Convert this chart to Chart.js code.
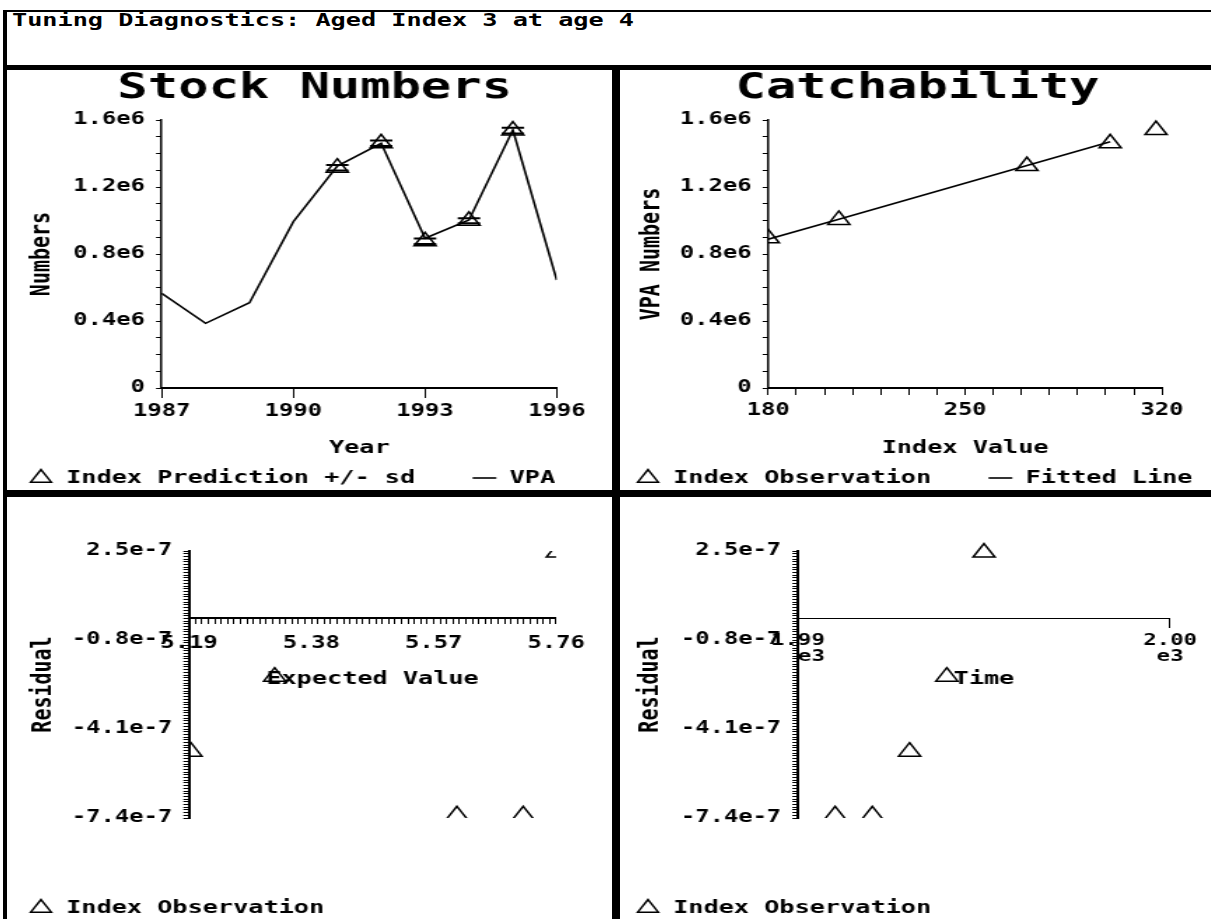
<!DOCTYPE html>
<html>
<head>
<meta charset="utf-8">
<title>Tuning Diagnostics</title>
<script src="https://cdn.jsdelivr.net/npm/chart.js@4.4.1/dist/chart.umd.min.js"></script>
<style>
    body { margin: 0; background: #fff; }
    #page { position: relative; width: 1211px; height: 919px; overflow: hidden; background: #fff; }
    .rule { position: absolute; background: #000; z-index: 2; }
    /* la pantalla original tiene pixeles anchos: se estira todo en horizontal */
    .panel { position: absolute; transform: scaleX(1.4); transform-origin: 0 0; }
    #header {
        position: absolute; left: 12px; top: 11px;
        font: bold 18px/18px 'DejaVu Sans Mono', monospace;
        white-space: nowrap; transform: scaleX(1.4); transform-origin: 0 0;
    }
</style>
</head>
<body>
<div id="page">
    <div id="header">Tuning Diagnostics: Aged Index 3 at age 4</div>

    <div class="panel" style="left:6px;top:70px"><canvas id="stockChart" width="433" height="420"></canvas></div>
    <div class="panel" style="left:620px;top:70px"><canvas id="catchChart" width="422" height="420"></canvas></div>
    <div class="panel" style="left:6px;top:497px"><canvas id="expectedChart" width="433" height="422"></canvas></div>
    <div class="panel" style="left:620px;top:497px"><canvas id="timeChart" width="422" height="422"></canvas></div>

    <div class="rule" style="left:3px;top:10px;width:1208px;height:2px"></div>
    <div class="rule" style="left:3px;top:10px;width:4px;height:909px"></div>
    <div class="rule" style="left:3px;top:65px;width:1208px;height:5px"></div>
    <div class="rule" style="left:612px;top:65px;width:8px;height:854px"></div>
    <div class="rule" style="left:3px;top:490px;width:1208px;height:7px"></div>
</div>

<script>
// --- Datos ---
const years = [1987, 1988, 1989, 1990, 1991, 1992, 1993, 1994, 1995, 1996];
const vpaNumbers = [0.565e6, 0.386e6, 0.509e6, 0.993e6, 1.325e6, 1.461e6, 0.894e6, 1.003e6, 1.540e6, 0.645e6];

const indexYears = [1991, 1992, 1993, 1994, 1995];
const indexPrediction = [1.315e6, 1.461e6, 0.876e6, 0.998e6, 1.537e6];
const predictionSd = [0.017e6, 0.016e6, 0.017e6, 0.015e6, 0.017e6];

const indexValue = [272.0, 301.6, 180.0, 205.1, 317.9];
const indexVpa = [1.325e6, 1.461e6, 0.894e6, 1.003e6, 1.540e6];
const fittedIndex = [180.0, 205.1, 272.0, 301.6];
const fittedVpa = [0.888e6, 1.008e6, 1.329e6, 1.470e6];

const expectedValue = [5.606, 5.709, 5.193, 5.323, 5.762];
const residual = [-7.3e-7, -7.3e-7, -4.94e-7, -2.16e-7, 2.44e-7];

// --- Etiquetas de los ejes ---
const numberTicks = [0, 0.4e6, 0.8e6, 1.2e6, 1.6e6];
const numberTickLabels = ['0', '0.4e6', '0.8e6', '1.2e6', '1.6e6'];
const yearTicks = [1987, 1990, 1993, 1996];
const indexTicks = [180, 250, 320];
const expectedTicks = [5.19, 5.38, 5.57, 5.76];
const expectedTickLabels = ['5.19', '5.38', '5.57', '5.76'];
const residualTicks = [-7.4e-7, -4.1e-7, -0.8e-7, 2.5e-7];
const residualTickLabels = ['-7.4e-7', '-4.1e-7', '-0.8e-7', '2.5e-7'];
const timeTicks = [1990, 2000];
const timeTickLabels = [['1.99', '  e3'], ['2.00', 'e3']];

const black = '#000';
const hollow = 'rgba(0,0,0,0)';

Chart.defaults.font.family = "'DejaVu Sans Mono', monospace";
Chart.defaults.color = black;

const tickFont = { size: 17, weight: 'bold', lineHeight: 1.2 };
const axisTitleFont = { size: 18, weight: 'bold', lineHeight: 1 };
const sideTitleFont = { size: 20, weight: 'bold', lineHeight: 1 };
const chartTitleFont = { size: 36, weight: 'bold', lineHeight: 1 };

// solo se escribe la etiqueta en las marcas mayores, las demas quedan vacias
function tickLabel(values, labels, step) {
    return function(value) {
        const i = values.findIndex(v => Math.abs(v - value) < step / 2);
        return i === -1 ? '' : labels[i];
    };
}

function axisGrid(len) {
    return { drawOnChartArea: false, drawTicks: true, tickLength: len, color: black };
}

function points(xs, ys) {
    return xs.map((x, i) => ({ x: x, y: ys[i] }));
}

function legendOpts(pad, maxHeight, spacer) {
    return {
        position: 'bottom',
        align: 'start',
        maxHeight: maxHeight,
        // titulo vacio para dejar el hueco debajo del grafico de residuos
        title: spacer ? { display: true, text: '', padding: 0, font: { size: spacer, lineHeight: 1 } } : { display: false },
        labels: {
            usePointStyle: true,
            boxWidth: 18,
            boxHeight: 12,
            padding: pad,
            color: black,
            font: { size: 18, weight: 'bold' },
            filter: item => item.text !== ''
        }
    };
}

function triangleSet(label, data, clip) {
    return {
        label: label,
        data: data,
        pointStyle: 'triangle',
        pointRadius: 9,
        pointBorderWidth: 1.5,
        borderColor: black,
        backgroundColor: hollow,
        clip: clip
    };
}

function lineSet(label, data) {
    return {
        label: label,
        data: data,
        showLine: true,
        borderColor: black,
        borderWidth: 1.6,
        pointRadius: 0,
        pointStyle: 'line',
        pointBorderWidth: 1.6
    };
}

function numbersAxis(title, width, titlePad) {
    return {
        type: 'linear',
        min: numberTicks[0],
        max: numberTicks[numberTicks.length - 1],
        grid: axisGrid(4),
        border: { color: black, width: 1.5 },
        ticks: { stepSize: 1e5, maxTicksLimit: 200, autoSkip: false, padding: 8, font: tickFont, color: black,
                 callback: tickLabel(numberTicks, numberTickLabels, 1e5) },
        title: { display: true, text: title, color: black, font: sideTitleFont, padding: { top: titlePad, bottom: 0 } },
        afterFit: function(scale) { scale.width = width; }
    };
}

function residualAxis(width) {
    return {
        type: 'linear',
        min: residualTicks[0],
        max: residualTicks[residualTicks.length - 1],
        grid: axisGrid(4),
        border: { color: black, width: 2 },
        ticks: { stepSize: 1e-8, maxTicksLimit: 200, autoSkip: false, padding: 8, font: tickFont, color: black,
                 callback: tickLabel(residualTicks, residualTickLabels, 1e-8) },
        title: { display: true, text: 'Residual', color: black, font: sideTitleFont, padding: { top: 3.1, bottom: 0 } },
        afterFit: function(scale) { scale.width = width; }
    };
}

// Stock Numbers
const sdBars = indexYears.flatMap((yr, i) => [
    { x: yr, y: indexPrediction[i] + predictionSd[i] },
    { x: yr, y: indexPrediction[i] - predictionSd[i] }
]);

new Chart(document.getElementById('stockChart'), {
    type: 'scatter',
    data: {
        datasets: [
            triangleSet('Index Prediction +/- sd   ', points(indexYears, indexPrediction)),
            lineSet('VPA', points(years, vpaNumbers)),
            { label: '', data: sdBars, pointStyle: 'line', pointRadius: 8, pointBorderWidth: 2, borderColor: black }
        ]
    },
    options: {
        responsive: false,
        animation: false,
        events: [],
        layout: { padding: { left: 8, right: 0, top: 0, bottom: 0 } },
        plugins: {
            title: { display: true, text: 'Stock Numbers', color: black, font: chartTitleFont, padding: { top: 1, bottom: 13 } },
            legend: legendOpts(8, 29),
            tooltip: { enabled: false }
        },
        scales: {
            x: {
                type: 'linear',
                min: yearTicks[0],
                max: yearTicks[yearTicks.length - 1],
                grid: axisGrid(10),
                border: { color: black, width: 2 },
                ticks: { stepSize: 3, autoSkip: false, maxRotation: 0, padding: 3, font: tickFont, color: black,
                         callback: tickLabel(yearTicks, yearTicks.map(String), 3) },
                title: { display: true, text: 'Year', color: black, font: axisTitleFont, padding: { top: 0, bottom: 4 } },
                afterFit: function(scale) { scale.height = 73; scale.paddingRight = 39.6; }
            },
            y: numbersAxis('Numbers', 103.2, 7.7)
        }
    }
});

// Catchability
new Chart(document.getElementById('catchChart'), {
    type: 'scatter',
    data: {
        datasets: [
            triangleSet('Index Observation   ', points(indexValue, indexVpa), { left: 0, top: 10, right: 10, bottom: 0 }),
            lineSet('Fitted Line', points(fittedIndex, fittedVpa))
        ]
    },
    options: {
        responsive: false,
        animation: false,
        events: [],
        layout: { padding: { left: 3, right: 0, top: 0, bottom: 0 } },
        plugins: {
            title: { display: true, text: 'Catchability', color: black, font: chartTitleFont, padding: { top: 1, bottom: 13 } },
            legend: legendOpts(8, 29),
            tooltip: { enabled: false }
        },
        scales: {
            x: {
                type: 'linear',
                min: indexTicks[0],
                max: indexTicks[indexTicks.length - 1],
                grid: axisGrid(7),
                border: { color: black, width: 2 },
                ticks: { stepSize: 10, autoSkip: false, maxRotation: 0, padding: 5, font: tickFont, color: black,
                         callback: tickLabel(indexTicks, indexTicks.map(String), 10) },
                title: { display: true, text: 'Index Value', color: black, font: axisTitleFont, padding: { top: 0, bottom: 4 } },
                afterFit: function(scale) { scale.height = 73; scale.paddingRight = 34.9; }
            },
            y: numbersAxis('VPA Numbers', 102.9, 9.9)
        }
    }
});

// Residuos contra valor esperado
new Chart(document.getElementById('expectedChart'), {
    type: 'scatter',
    data: {
        datasets: [triangleSet('Index Observation', points(expectedValue, residual), 0)]
    },
    options: {
        responsive: false,
        animation: false,
        events: [],
        layout: { padding: { left: 14, right: 40.1, top: 54, bottom: 0 } },
        plugins: {
            legend: legendOpts(2, 101, 79),
            tooltip: { enabled: false }
        },
        scales: {
            x: {
                type: 'linear',
                position: { y: 0 },
                min: expectedTicks[0],
                max: expectedTicks[expectedTicks.length - 1],
                grid: axisGrid(5),
                border: { color: black, width: 2 },
                ticks: { stepSize: 0.01, maxTicksLimit: 200, autoSkip: false, maxRotation: 0, padding: 10, font: tickFont, color: black,
                         callback: tickLabel(expectedTicks, expectedTickLabels, 0.01) },
                title: { display: true, text: 'Expected Value', color: black, font: axisTitleFont, padding: 0 },
                afterFit: function(scale) { scale.height = 70; }
            },
            y: residualAxis(116.7)
        }
    }
});

// Residuos contra tiempo
new Chart(document.getElementById('timeChart'), {
    type: 'scatter',
    data: {
        datasets: [triangleSet('Index Observation', points(indexYears, residual), { left: 0, top: 10, right: 0, bottom: 0 })]
    },
    options: {
        responsive: false,
        animation: false,
        events: [],
        layout: { padding: { left: 9, right: 29.1, top: 54, bottom: 0 } },
        plugins: {
            legend: legendOpts(2, 101, 79),
            tooltip: { enabled: false }
        },
        scales: {
            x: {
                type: 'linear',
                position: { y: 0 },
                min: timeTicks[0],
                max: timeTicks[timeTicks.length - 1],
                grid: axisGrid(9),
                border: { color: black, width: 1 },
                ticks: { stepSize: 10, autoSkip: false, maxRotation: 0, padding: 5, color: black,
                         font: { size: 16, weight: 'bold', lineHeight: 1 },
                         callback: tickLabel(timeTicks, timeTickLabels, 10) },
                title: { display: true, text: 'Time', color: black, font: axisTitleFont, padding: 0 },
                afterFit: function(scale) { scale.height = 70; }
            },
            y: residualAxis(118.1)
        }
    }
});
</script>
</body>
</html>
